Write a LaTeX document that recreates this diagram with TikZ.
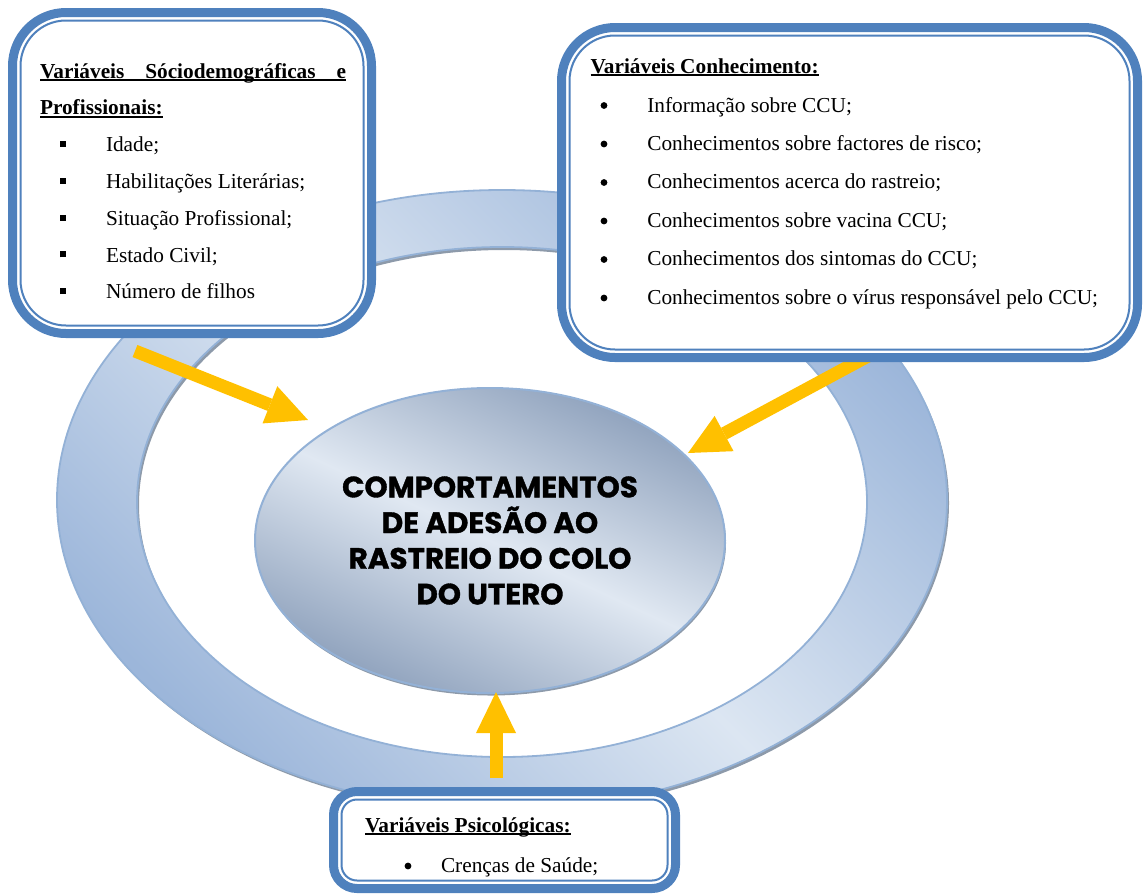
\documentclass[tikz,border=0pt]{standalone}
\usepackage{fontspec}
\setmainfont{Liberation Serif}
\newfontfamily\ctrfont{Poppins}[BoldFeatures={FakeBold=1.2}]
\usetikzlibrary{arrows.meta,shapes.geometric}
\definecolor{boxblue}{HTML}{4F81BD}
\definecolor{arrowc}{HTML}{FFC000}
\definecolor{ringedge}{HTML}{93B1D6}
\definecolor{ringlight}{HTML}{DCE6F2}
\definecolor{ringdark}{HTML}{9CB6DA}
\definecolor{elllight}{HTML}{E0E8F2}
\definecolor{elldark}{HTML}{8EA1BC}
\definecolor{shadowc}{HTML}{8D9AAA}
\newsavebox\ulbx
\newcommand{\myul}[1]{\leavevmode\sbox\ulbx{#1}\rlap{\rule[-1.4pt]{\wd\ulbx}{0.75pt}}\usebox\ulbx}
\newcommand{\sqbul}{\rule[2.35pt]{3pt}{3pt}}
\tikzset{
  vbox/.style={rectangle, draw=boxblue, fill=white, line width=4.5pt, outer sep=0pt, inner sep=0pt},
  thinb/.style={draw=boxblue, line width=1pt},
  yarrow/.style={draw=arrowc, line width=6.5pt, -{Triangle[width=20pt,length=20.5pt,line width=0pt]}},
  txt/.style={inner sep=0pt, outer sep=0pt, anchor=base west},
  dotbul/.style={fill=black}
}
\begin{document}
\begin{tikzpicture}[x=0.5pt,y=-0.5pt]
\useasboundingbox (0,0) rectangle (1144,895);
% ring
\fill[shadowc, even odd rule, shift={(2,3)}] (502,500) ellipse [x radius=222.5pt, y radius=155pt] (502,502) ellipse [x radius=182.5pt, y radius=127.5pt];
\shade[even odd rule, top color=ringdark, bottom color=ringdark, middle color=ringlight, shading angle=-45] (502,500) ellipse [x radius=222.5pt, y radius=155pt] (502,502) ellipse [x radius=182.5pt, y radius=127.5pt];
\draw[ringedge, line width=0.9pt] (502,500) ellipse [x radius=222.5pt, y radius=155pt] (502,502) ellipse [x radius=182.5pt, y radius=127.5pt];
% centre ellipse
\fill[shadowc] (491,543) ellipse [x radius=117.5pt, y radius=76.25pt];
\node[ellipse, draw=ringedge, line width=1pt, inner sep=0pt, minimum width=235pt, minimum height=152.5pt,
  top color=elldark, bottom color=elldark, middle color=elllight, shading angle=-25,
  align=center, font=\ctrfont\bfseries\fontsize{14.7pt}{17.85pt}\selectfont] (core) at (490,540.5)
  {COMPORTAMENTOS\\DE ADESÃO AO\\RASTREIO DO COLO\\DO UTERO};
% arrows
\coordinate (a1s) at (135,351); \coordinate (a1e) at (308,420);
\coordinate (a2s) at (870,355); \coordinate (a2e) at (688,453);
\coordinate (a3s) at (496,778); \coordinate (a3e) at (496,692);
\draw[yarrow] (a1s) -- (a1e);
\draw[yarrow] (a2s) -- (a2e);
\draw[yarrow] (a3s) -- (a3e);
% boxes
\node[vbox, minimum width=179.5pt, minimum height=160.5pt, rounded corners=26.75pt] (sociobox) at (192,173) {};
\draw[thinb, rounded corners=22.75pt] ([shift={(8,8)}]sociobox.north west) rectangle ([shift={(-8,-8)}]sociobox.south east);
\node[vbox, minimum width=288pt, minimum height=165pt, rounded corners=26.75pt] (conhbox) at (849.5,192.5) {};
\draw[thinb, rounded corners=22.75pt] ([shift={(8,8)}]conhbox.north west) rectangle ([shift={(-8,-8)}]conhbox.south east);
\node[vbox, minimum width=171pt, minimum height=48.5pt, rounded corners=11.75pt] (psicobox) at (504.5,840) {};
\draw[thinb, rounded corners=7.75pt] ([shift={(8,8)}]psicobox.north west) rectangle ([shift={(-8,-8)}]psicobox.south east);
% texts
\node[txt] (sociotext) at (40,78) {\parbox[t]{160pt}{\fontsize{10.65pt}{18.4pt}\selectfont
\myul{\makebox[153pt][s]{\bfseries Variáveis\hfill Sóciodemográficas\hfill e}}\\
\myul{\bfseries Profissionais:}\\
\hspace*{10pt}\sqbul\hspace*{20pt}Idade;\\
\hspace*{10pt}\sqbul\hspace*{20pt}Habilitações Literárias;\\
\hspace*{10pt}\sqbul\hspace*{20pt}Situação Profissional;\\
\hspace*{10pt}\sqbul\hspace*{20pt}Estado Civil;\\
\hspace*{10pt}\sqbul\hspace*{20pt}Número de filhos}};
\node[txt] (conhtext) at (590.5,73) {\parbox[t]{270pt}{\fontsize{10.65pt}{19.2pt}\selectfont
\myul{\bfseries Variáveis Conhecimento:}\\[0.3pt]
\hspace*{28.4pt}Informação sobre CCU;\\
\hspace*{28.4pt}Conhecimentos sobre factores de risco;\\
\hspace*{28.4pt}Conhecimentos acerca do rastreio;\\
\hspace*{28.4pt}Conhecimentos sobre vacina CCU;\\
\hspace*{28.4pt}Conhecimentos dos sintomas do CCU;\\
\hspace*{28.4pt}Conhecimentos sobre o vírus responsável pelo CCU;}};
\node[txt] (psicotext) at (365,832) {\parbox[t]{150pt}{\fontsize{10.65pt}{20pt}\selectfont
\myul{\bfseries Variáveis Psicológicas:}\\
\hspace*{38pt}Crenças de Saúde;}};
% round bullets
\foreach \yy in {105.5,144,182.5,221,259.5,298} \fill[dotbul] (604,\yy) circle (1.7pt);
\fill[dotbul] (408,866) circle (1.7pt);
\end{tikzpicture}
\end{document}
